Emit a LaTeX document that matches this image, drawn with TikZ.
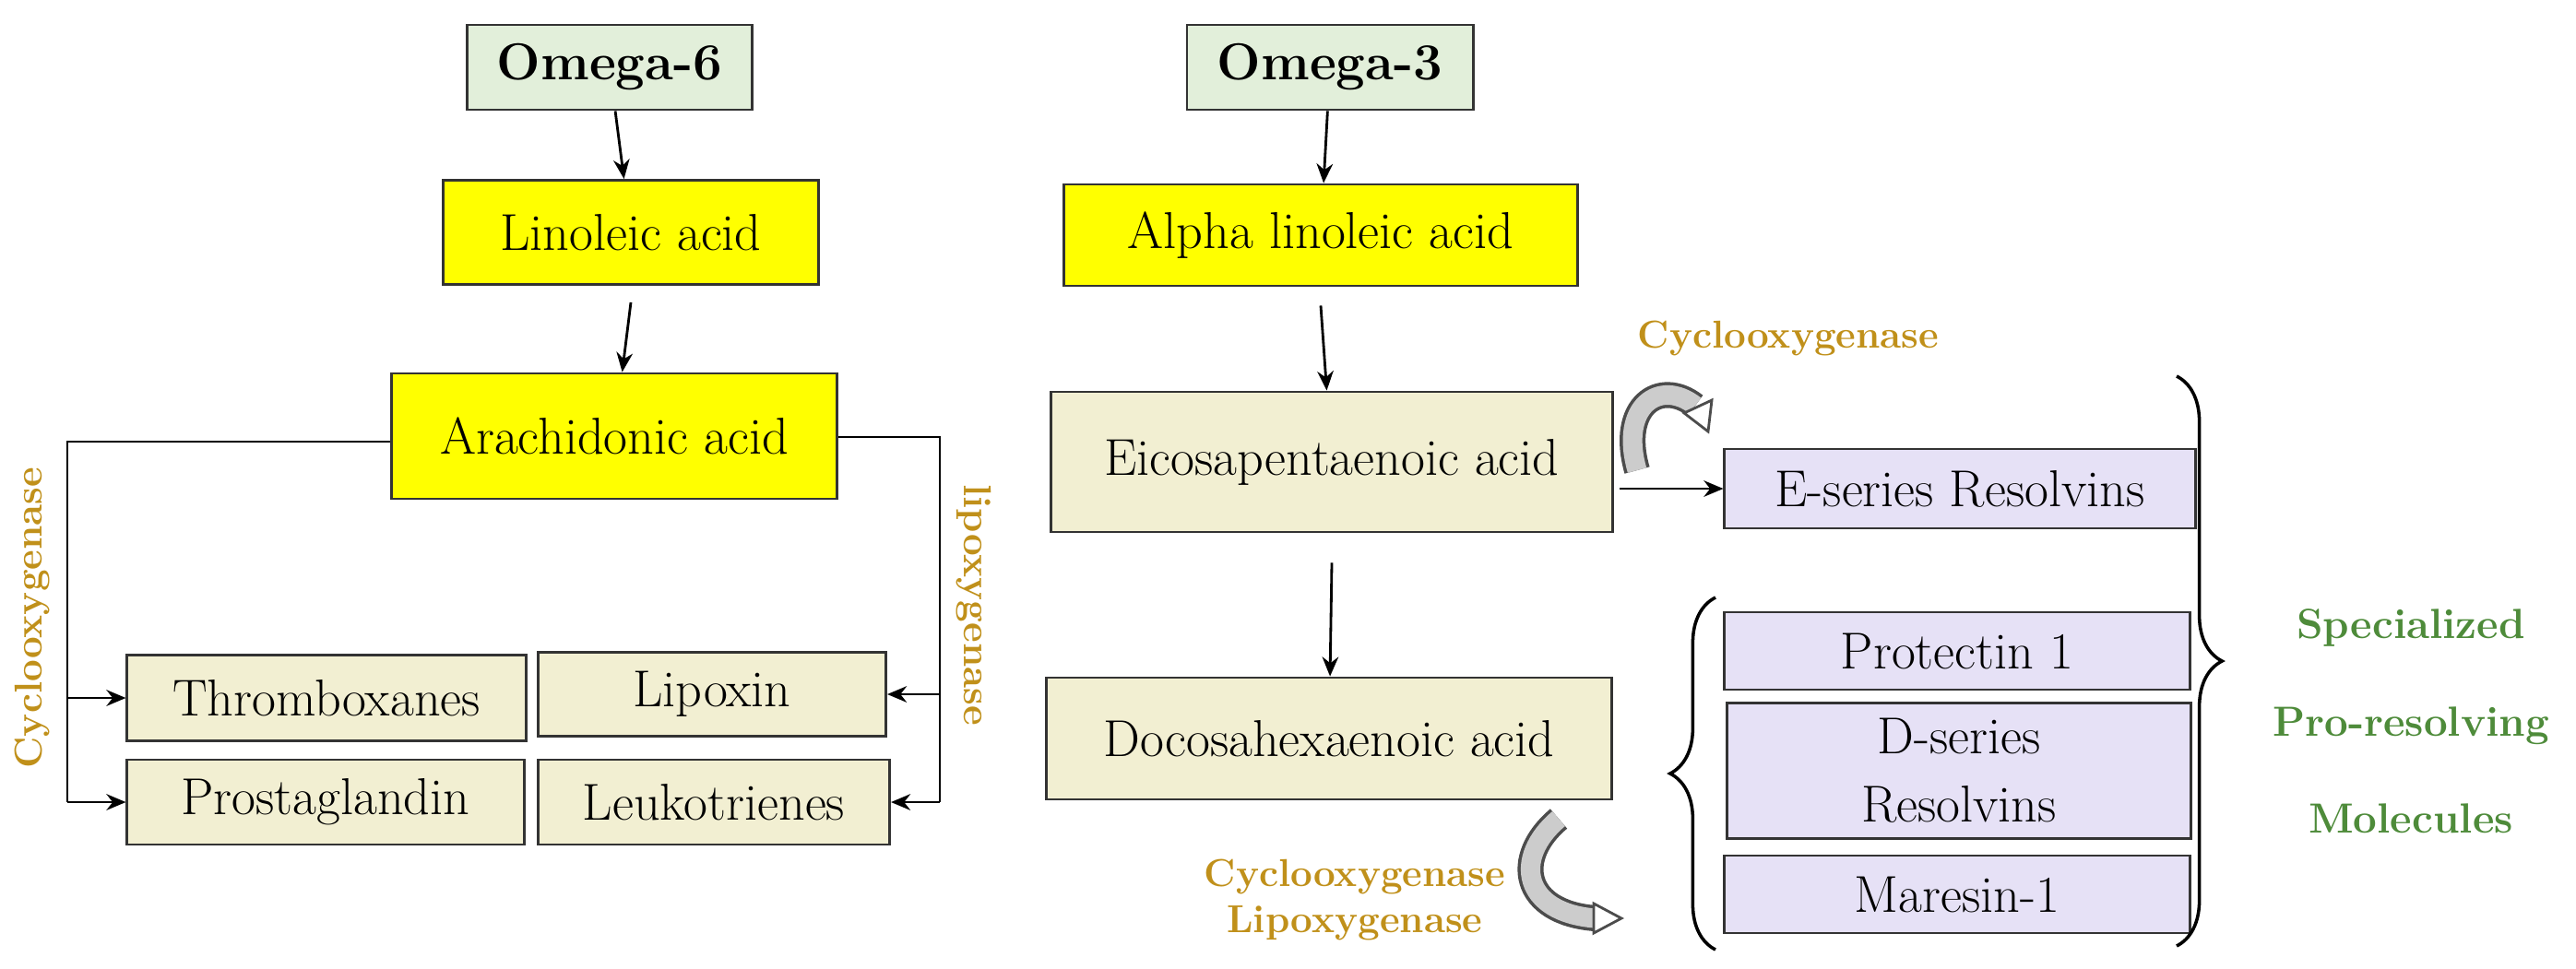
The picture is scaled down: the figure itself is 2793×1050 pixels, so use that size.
\documentclass[tikz,border=0pt]{standalone}
\usetikzlibrary{arrows.meta,decorations.pathreplacing}

\definecolor{omegagreen}{HTML}{E2EFDA}
\definecolor{acidyellow}{HTML}{FFFF00}
\definecolor{acidbeige}{HTML}{F2EFD2}
\definecolor{spmlilac}{HTML}{E6E1F6}
\definecolor{enzymegold}{HTML}{C0901A}
\definecolor{spmgreen}{HTML}{4E8B3A}

\tikzset{
  box/.style={draw=black!80, line width=0.8pt, rectangle, inner sep=0pt, font=\fontsize{16}{19}\selectfont},
  omega/.style={box, fill=omegagreen, font=\fontsize{16}{19}\selectfont\bfseries},
  yellowbox/.style={box, fill=acidyellow},
  beigebox/.style={box, fill=acidbeige},
  lilacbox/.style={box, fill=spmlilac, align=center},
  enzyme/.style={text=enzymegold, font=\fontsize{12}{14}\selectfont\bfseries, align=center},
  spm/.style={text=spmgreen, font=\fontsize{13}{15}\selectfont\bfseries},
  flow/.style={-{Stealth[length=6pt,width=5pt]}, line width=0.8pt},
  bendline/.style={line width=8pt, line cap=butt},
}

\newcommand{\blockarrow}[2]{%
  \draw[bendline, black!70] #1;
  \draw[line width=6pt, gray!40] #1;
  \fill[white, draw=black!70, line width=0.8pt] #2;
}

\begin{document}
\begin{tikzpicture}[x=0.01cm, y=-0.01cm]
\useasboundingbox (0,0) rectangle (2793,1050);

% omega-6 branch
\node[omega, minimum width=3.09cm, minimum height=0.92cm] (om6) at (661,73) {Omega-6};
\node[yellowbox, minimum width=4.06cm, minimum height=1.13cm] (la) at (684,252) {Linoleic acid};
\node[yellowbox, minimum width=4.83cm, minimum height=1.36cm] (aa) at (666,473) {Arachidonic acid};
\node[beigebox, minimum width=4.32cm, minimum height=0.93cm] (thx) at (354,757) {Thromboxanes};
\node[beigebox, minimum width=3.77cm, minimum height=0.91cm] (lpx) at (772,753) {Lipoxin};
\node[beigebox, minimum width=4.30cm, minimum height=0.92cm] (pg) at (353,870) {Prostaglandin};
\node[beigebox, minimum width=3.81cm, minimum height=0.92cm] (ltr) at (774,870) {Leukotrienes};

\coordinate (cl) at (73,479);
\coordinate (cr) at (1019,474);

\draw[flow] (om6) -- (la);
\draw[flow] (la.south) ++(0,18) -- (aa);
\draw[line width=0.8pt] (aa.west |- cl) -- (cl) -- (cl |- pg);
\draw[flow] (cl |- thx) -- (thx);
\draw[flow] (cl |- pg) -- (pg);
\draw[line width=0.8pt] (aa.east |- cr) -- (cr) -- (cr |- ltr);
\draw[flow] (cr |- lpx) -- (lpx);
\draw[flow] (cr |- ltr) -- (ltr);

\node[enzyme, rotate=90] (cox1) at (35,670) {Cyclooxygenase};
\node[enzyme, rotate=-90] (lox1) at (1056,656) {lipoxygenase};

% omega-3 branch
\node[omega, minimum width=3.10cm, minimum height=0.92cm] (om3) at (1442,73) {Omega-3};
\node[yellowbox, minimum width=5.56cm, minimum height=1.10cm] (ala) at (1432,255) {Alpha linoleic acid};
\node[beigebox, minimum width=6.08cm, minimum height=1.52cm] (epa) at (1444,501) {Eicosapentaenoic acid};
\node[beigebox, minimum width=6.12cm, minimum height=1.32cm] (dha) at (1441,801) {Docosahexaenoic acid};
\node[lilacbox, minimum width=5.10cm, minimum height=0.86cm] (ers) at (2125,530) {E-series Resolvins};
\node[lilacbox, minimum width=5.05cm, minimum height=0.84cm] (pd1) at (2122,706) {Protectin 1};
\node[lilacbox, minimum width=5.02cm, minimum height=1.47cm] (drs) at (2124,836) {D-series\\[2pt]Resolvins};
\node[lilacbox, minimum width=5.05cm, minimum height=0.84cm] (mar) at (2122,970) {Maresin-1};

\draw[flow] (om3) -- (ala);
\draw[flow] (ala.south) ++(0,20) -- (epa);
\draw[flow] (epa.south) ++(0,32) -- (dha);
\draw[flow] (epa.east |- ers) ++(6,0) -- (ers);

\draw[decorate, decoration={brace, amplitude=14pt}, line width=1pt]
  (1860,1030) -- (1860,648);
\draw[decorate, decoration={brace, amplitude=14pt}, line width=1pt]
  (2360,408) -- (2360,1026);

\node[enzyme] (cox2) at (1939,367) {Cyclooxygenase};
\node[enzyme] (coxlox) at (1469,976) {Cyclooxygenase\\Lipoxygenase};

\node[spm] (spm1) at (2614,681) {Specialized};
\node[spm] (spm2) at (2614,787) {Pro-resolving};
\node[spm] (spm3) at (2614,888) {Molecules};

% curved block arrows
\blockarrow{(1775,510) .. controls (1755,440) and (1800,410) .. (1838,440)}
  {(1826,448) -- (1856,434) -- (1852,468) -- cycle};
\blockarrow{(1690,888) .. controls (1640,930) and (1650,990) .. (1730,996)}
  {(1728,980) -- (1758,996) -- (1728,1012) -- cycle};

\end{tikzpicture}
\end{document}
